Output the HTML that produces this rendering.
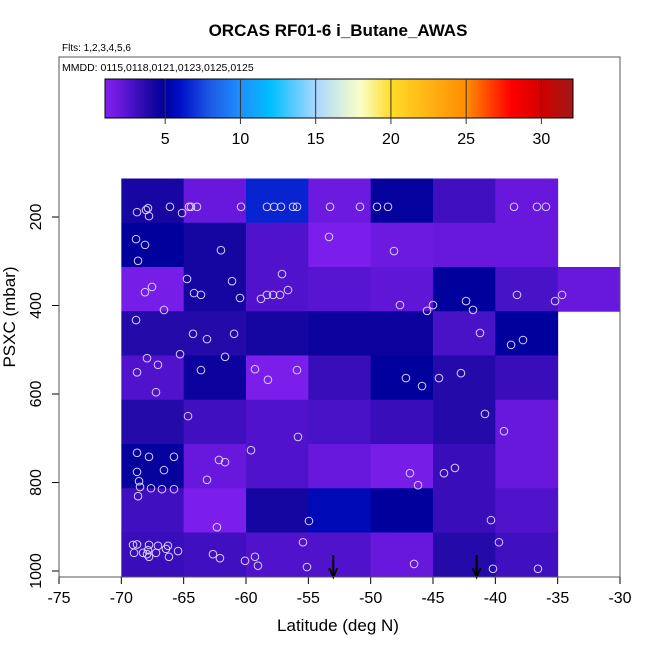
<!DOCTYPE html>
<html><head><meta charset="utf-8">
<style>
body{margin:0;background:#fff;}
svg{display:block;font-family:"Liberation Sans",sans-serif;}
</style></head>
<body>
<svg id="chart" width="650" height="650" xmlns="http://www.w3.org/2000/svg">
<rect width="650" height="650" fill="#fff"/>
<text x="338" y="36" text-anchor="middle" font-size="17" font-weight="bold">ORCAS RF01-6 i_Butane_AWAS</text>
<text x="62" y="51" font-size="10">Flts: 1,2,3,4,5,6</text>
<text x="62" y="71" font-size="10.5">MMDD: 0115,0118,0121,0123,0125,0125</text>
<g id="cbar"></g>
<g id="cells"></g>
<g id="pts"></g>
<g id="axes"></g>
<rect x="59" y="57" width="561" height="520" fill="none" stroke="#555" stroke-width="1"/>
<text x="338" y="631" text-anchor="middle" font-size="17">Latitude (deg N)</text>
<text transform="translate(15,317) rotate(-90)" text-anchor="middle" font-size="17">PSXC (mbar)</text>
</svg>
<script>
const latEdges=[-70,-65,-60,-55,-50,-45,-40,-35];
const presEdges=[113,213,313,413,513,613,713,813,913,1013];
const cellValues=[
[4.2,2.0,6.5,1.8,4.8,3.0,2.0],
[5.0,4.3,2.6,1.2,1.8,2.0,2.0],
[1.4,4.3,2.6,2.4,2.2,5.0,2.8],
[3.8,3.8,4.3,4.6,4.6,2.8,5.0],
[2.6,4.6,1.2,3.2,5.0,3.8,3.2],
[3.8,3.0,2.6,2.8,3.2,3.8,2.0],
[4.8,2.0,2.6,2.0,1.4,3.2,2.0],
[3.0,1.2,4.3,5.6,5.0,3.2,2.6],
[3.2,3.0,2.6,2.6,2.0,3.8,3.0]];
const extraCellLat=[-35,-30];
const extraCellRow=2;
const extraCellValue=2.0;
const ptLat=[-68.74,-68.02,-67.86,-67.78,-66.10,-65.13,-64.57,-64.41,-63.93,-60.40,-58.32,-57.75,-57.19,-56.23,-55.91,-53.26,-50.86,-49.49,-48.61,-38.50,-36.66,-35.94,
-68.82,-68.10,-68.66,-62.01,-53.34,-48.13,
-64.73,-68.10,-67.54,-66.58,-64.17,-63.61,-61.12,-60.48,-57.11,-58.80,-58.32,-57.83,-57.27,-56.63,-47.65,-45.48,-45.00,-42.35,-41.79,-38.26,-35.21,-34.65,
-68.82,-64.25,-63.13,-60.96,-41.23,-38.74,-37.78,
-67.94,-67.06,-65.29,-61.68,-68.74,-67.22,-63.61,-59.28,-58.24,-55.91,-47.17,-45.88,-44.52,-42.76,
-64.65,-55.83,-40.83,-39.31,
-68.74,-67.78,-65.78,-68.74,-66.58,-68.58,-68.50,-67.62,-66.74,-65.78,-68.66,-62.17,-61.68,-63.13,-59.60,-46.85,-46.20,-44.12,-43.24,
-62.33,-54.95,-40.35,
-69.06,-68.74,-67.78,-67.06,-66.26,-68.98,-68.26,-67.94,-67.78,-67.22,-66.42,-66.18,-65.45,-67.86,-62.65,-62.09,-60.08,-59.28,-59.04,-55.43,-55.11,-46.52,-40.19,-39.71,-36.58];
const ptPres=[189,184,180,198,177,191,177,177,177,177,177,177,177,177,177,177,177,177,177,177,177,177,
250,263,299,275,245,277,
340,370,358,410,372,376,345,383,329,385,376,376,376,365,399,412,399,390,410,376,390,376,
433,464,476,464,462,489,478,
519,534,510,516,551,596,546,544,568,546,564,582,564,553,
650,697,645,684,
733,742,742,776,772,797,810,813,815,815,831,749,754,794,727,779,806,779,767,
901,887,885,
941,940,941,943,943,959,959,962,968,959,950,968,955,953,962,971,977,968,988,935,991,984,995,935,995];
const arrowLat=[-53.0,-41.5];
const xTicks=[-75,-70,-65,-60,-55,-50,-45,-40,-35,-30];
const yTicks=[200,400,600,800,1000];
const cbarTicks=[5,10,15,20,25,30];
const cbarRange=[1.0,32.1];

const NS='http://www.w3.org/2000/svg';
function mk(tag,attrs,parent){const e=document.createElementNS(NS,tag);for(const k in attrs)e.setAttribute(k,attrs[k]);parent.appendChild(e);return e;}
function xs(lat){return 59+(lat+75)*561/45;}
function ys(p){return 217+(p-200)*0.4425;}
function cx(v){return 105+(v-cbarRange[0])*(573-105)/(cbarRange[1]-cbarRange[0]);}
const stops=[[1,[128,32,240]],[2,[104,24,220]],[3,[64,16,192]],[4,[30,8,164]],[5,[0,0,156]],[6,[0,16,200]],[8,[30,90,230]],[10,[30,144,255]],[12,[0,190,255]],[15,[170,215,255]],[18,[250,255,200]],[20,[255,220,40]],[25,[255,140,0]],[28,[255,0,0]],[30,[210,0,0]],[32.1,[160,24,24]]];
function col(v){
  if(v<=stops[0][0])return 'rgb('+stops[0][1]+')';
  for(let i=1;i<stops.length;i++){if(v<=stops[i][0]){const a=stops[i-1],b=stops[i];const t=(v-a[0])/(b[0]-a[0]);
    return 'rgb('+a[1].map((c,j)=>Math.round(c+(b[1][j]-c)*t)).join(',')+')';}}
  return 'rgb('+stops[stops.length-1][1]+')';
}
const cb=document.getElementById('cbar');
for(let x=105;x<573;x++){const v=cbarRange[0]+(x+0.5-105)*(cbarRange[1]-cbarRange[0])/(573-105);
  const r=mk('rect',{x:x,y:79,width:1.2,height:39,fill:col(v)},cb);
  
  }
mk('rect',{x:105,y:79,width:468,height:39,fill:'none',stroke:'#000','stroke-width':1},cb);
cbarTicks.forEach(t=>{const x=cx(t);
  mk('line',{x1:x,y1:79,x2:x,y2:124,stroke:'#333','stroke-width':1},cb);
  const tx=mk('text',{x:x,y:144,'text-anchor':'middle','font-size':16},cb);tx.textContent=t;
  
  });
const cg=document.getElementById('cells');
cellValues.forEach((row,r)=>row.forEach((v,c)=>{
  const x0=xs(latEdges[c]),x1=xs(latEdges[c+1]),y0=ys(presEdges[r]),y1=ys(presEdges[r+1]);
  const e=mk('rect',{x:x0,y:y0,width:x1-x0+0.5,height:y1-y0+0.5,fill:col(v)},cg);
  
  
}));
{const x0=xs(extraCellLat[0]),x1=xs(extraCellLat[1]),y0=ys(presEdges[extraCellRow]),y1=ys(presEdges[extraCellRow+1]);
 const e=mk('rect',{x:x0,y:y0,width:x1-x0,height:y1-y0+0.5,fill:col(extraCellValue)},cg);
 
 }
const pg=document.getElementById('pts');
ptLat.forEach((la,i)=>{const e=mk('circle',{cx:xs(la),cy:ys(ptPres[i]),r:3.8,fill:'none',stroke:'#d8ccff','stroke-width':1},pg);
  
  });
const ag=document.getElementById('axes');
xTicks.forEach(t=>{const x=xs(t);mk('line',{x1:x,y1:577,x2:x,y2:584,stroke:'#000'},ag);
  const tx=mk('text',{x:x,y:603,'text-anchor':'middle','font-size':16},ag);tx.textContent=t;
  
  });
yTicks.forEach(t=>{const y=ys(t);mk('line',{x1:52,y1:y,x2:59,y2:y,stroke:'#000'},ag);
  const tx=mk('text',{transform:'translate(41,'+y+') rotate(-90)','text-anchor':'middle','font-size':16},ag);tx.textContent=t;
  
  });
arrowLat.forEach(la=>{const x=xs(la);
  const g=mk('g',{},ag);
  
  
  mk('line',{x1:x,y1:555,x2:x,y2:575,stroke:'#000','stroke-width':2},g);
  mk('path',{d:'M'+(x-4)+' 568 L'+x+' 577 L'+(x+4)+' 568',fill:'none',stroke:'#000','stroke-width':2},g);});
</script>
</body></html>
